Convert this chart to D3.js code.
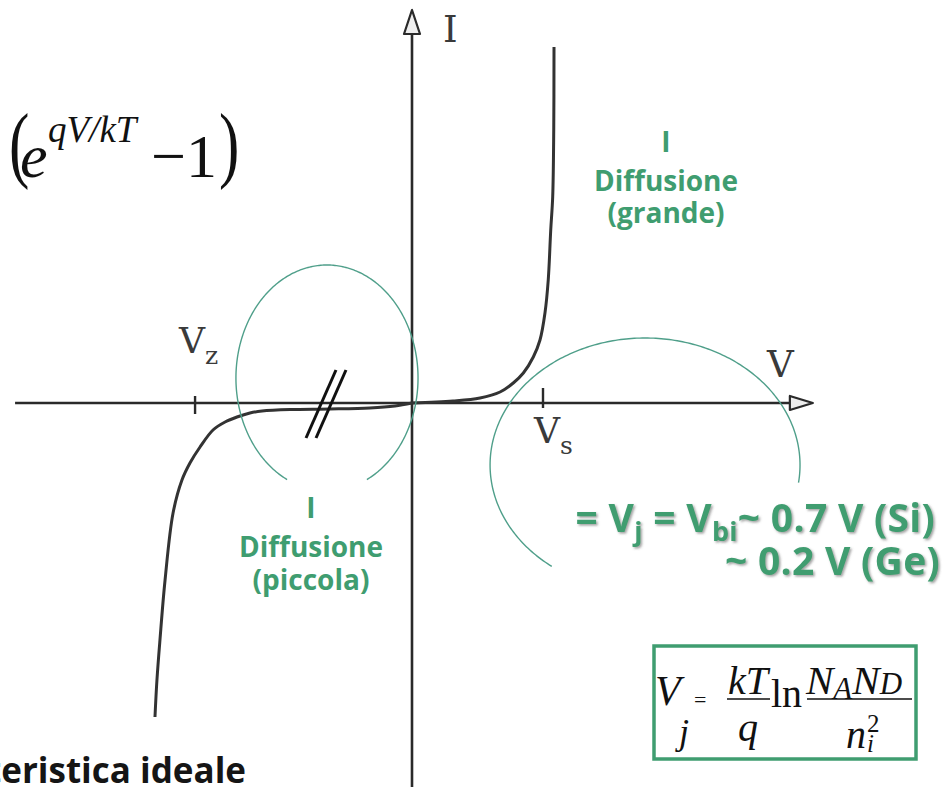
<!DOCTYPE html>
<html>
<head>
<meta charset="utf-8">
<script src="https://cdn.jsdelivr.net/npm/d3@7"></script>
<style>
  html, body { margin: 0; padding: 0; background: #fff; }
  svg { display: block; }
</style>
</head>
<body>
<svg id="chart" width="949" height="787"></svg>
<script>
// Forward branch of the diode I–V characteristic (V, I in sketch units)
const forwardV = [0, 0.313, 0.519, 0.672, 0.773, 0.850, 0.926, 0.977, 1.015, 1.040, 1.059, 1.074, 1.082, 1.084];
const forwardI = [0, 0.02, 0.05, 0.11, 0.20, 0.30, 0.46, 0.63, 0.90, 1.23, 1.73, 2.06, 2.73, 3.56];

// Reverse branch: saturation current, then breakdown near Vz
const reverseV = [0, -0.130, -0.321, -0.626, -0.931, -1.145, -1.237, -1.336, -1.427, -1.519, -1.618, -1.695, -1.756, -1.824, -1.885, -1.924, -1.947, -1.962];
const reverseI = [0, -0.03, -0.05, -0.06, -0.065, -0.08, -0.10, -0.14, -0.19, -0.27, -0.44, -0.60, -0.77, -1.10, -1.77, -2.37, -2.77, -3.14];

// Marked voltages on the V axis
const markNames = ["V", "V"];
const markSubs = ["z", "s"];
const markValues = [-1.656, 1.0];

// Text blocks
const labelForward = ["I", "Diffusione", "(grande)"];
const labelReverse = ["I", "Diffusione", "(piccola)"];
const titleText = "Caratteristica ideale";

const svg = d3.select("#chart");

const x = d3.scaleLinear().domain([-3, 3]).range([19, 805]);
const y = d3.scaleLinear().domain([-4, 4]).range([803, 3]);

const ink = "#2a2a2a";
const green = "#3f9d70";
const arcGreen = "#4f9f8a";

const defs = svg.append("defs");
const shadow = defs.append("filter").attr("id", "txtShadow")
  .attr("x", "-10%").attr("y", "-20%").attr("width", "120%").attr("height", "150%");
shadow.append("feDropShadow").attr("dx", 1.6).attr("dy", 1.6)
  .attr("stdDeviation", 1).attr("flood-color", "#555").attr("flood-opacity", 0.55);

// ---------- axes ----------
const axes = svg.append("g");
axes.append("line")
  .attr("x1", x(-3.03)).attr("x2", x(2.95))
  .attr("y1", y(0)).attr("y2", y(0))
  .attr("stroke", ink).attr("stroke-width", 2.6);
axes.append("line")
  .attr("x1", x(0)).attr("x2", x(0))
  .attr("y1", y(-3.95)).attr("y2", y(3.7))
  .attr("stroke", ink).attr("stroke-width", 2.6);

// hollow arrowheads
const xTip = x(3.06), yTip = y(3.93);
axes.append("path")
  .attr("d", `M${xTip},${y(0)} L${xTip - 23},${y(0) - 7} L${xTip - 23},${y(0) + 7} Z`)
  .attr("fill", "#eeeeee").attr("stroke", ink).attr("stroke-width", 2.2).attr("stroke-linejoin", "round");
axes.append("path")
  .attr("d", `M${x(0)},${yTip} L${x(0) - 8},${yTip + 24} L${x(0) + 8},${yTip + 24} Z`)
  .attr("fill", "#eeeeee").attr("stroke", ink).attr("stroke-width", 2.2).attr("stroke-linejoin", "round");

// axis names
const serif = "'DejaVu Serif', serif";
axes.append("text").attr("x", x(0) + 31).attr("y", 42)
  .attr("font-family", serif).attr("font-size", 37).attr("fill", "#3a3a3a").text("I");
axes.append("text").attr("x", 767).attr("y", 377)
  .attr("font-family", serif).attr("font-size", 37).attr("fill", "#3a3a3a").text("V");

// marks on the V axis
const markUp = [0.07, 0.15];
const markDown = [-0.11, -0.05];
axes.selectAll("line.mark").data(markValues).join("line")
  .attr("class", "mark")
  .attr("x1", d => x(d)).attr("x2", d => x(d))
  .attr("y1", (d, i) => y(markUp[i])).attr("y2", (d, i) => y(markDown[i]))
  .attr("stroke", ink).attr("stroke-width", 2.4);

const markPos = [[179, 353], [534, 443]];
markValues.forEach((v, i) => {
  const t = axes.append("text")
    .attr("x", markPos[i][0]).attr("y", markPos[i][1])
    .attr("font-family", serif).attr("font-size", 36).attr("fill", "#3a3a3a");
  t.append("tspan").text(markNames[i]);
  t.append("tspan").attr("dy", 11).attr("font-size", 25).text(markSubs[i]);
});

// ---------- characteristic ----------
const line = d3.line()
  .x(d => x(d[0])).y(d => y(d[1]))
  .curve(d3.curveCatmullRom.alpha(0.5));

const fwd = forwardV.map((v, i) => [v, forwardI[i]]);
const rev = reverseV.map((v, i) => [v, reverseI[i]]);

svg.append("path").datum(fwd).attr("d", line)
  .attr("fill", "none").attr("stroke", "#333").attr("stroke-width", 3);
svg.append("path").datum(rev).attr("d", line)
  .attr("fill", "none").attr("stroke", "#333").attr("stroke-width", 3);

// scale-break marks on the reverse branch
[0, 10].forEach(off => {
  svg.append("line")
    .attr("x1", 306 + off).attr("y1", 438)
    .attr("x2", 336 + off).attr("y2", 370)
    .attr("stroke", "#111").attr("stroke-width", 3);
});

// ---------- region outlines ----------
function ellipseArc(cv, ci, rv, ri, a0, a1) {
  const cx = x(cv), cy = y(ci);
  const rx = x(rv) - x(0), ry = y(0) - y(ri);
  const pts = d3.range(a0, a1 + 0.5, 1).map(a => {
    const t = a * Math.PI / 180;
    return [cx + rx * Math.cos(t), cy + ry * Math.sin(t)];
  });
  return d3.line()(pts);
}
svg.append("path").attr("d", ellipseArc(-0.649, 0.25, 0.695, 1.13, 116, 424))
  .attr("fill", "none").attr("stroke", arcGreen).attr("stroke-width", 1.4);
svg.append("path").attr("d", ellipseArc(1.779, -0.62, 1.183, 1.27, 127, 368))
  .attr("fill", "none").attr("stroke", arcGreen).attr("stroke-width", 1.4);

// ---------- green notes ----------
const sans = "'Open Sans', sans-serif";
function stack(lines, cx, baselines) {
  lines.forEach((s, i) => {
    svg.append("text").attr("x", cx).attr("y", baselines[i])
      .attr("text-anchor", "middle").attr("font-family", sans)
      .attr("font-weight", 700).attr("font-size", 28).attr("fill", green).text(s);
  });
}
stack(labelForward, 666, [152, 191, 223]);
stack(labelReverse, 311, [518, 557, 590]);

const vbi = svg.append("text").attr("x", 935).attr("y", 532).attr("text-anchor", "end")
  .attr("font-family", sans).attr("font-weight", 700).attr("font-size", 39)
  .attr("letter-spacing", 0.3)
  .attr("fill", green).attr("filter", "url(#txtShadow)");
vbi.append("tspan").text("= V");
vbi.append("tspan").attr("dy", 9).attr("font-size", 27).text("j");
vbi.append("tspan").attr("dy", -9).text(" = V");
vbi.append("tspan").attr("dy", 9).attr("font-size", 27).text("bi");
vbi.append("tspan").attr("dy", -9).text("~ 0.7 V (Si)");

svg.append("text").attr("x", 940).attr("y", 575).attr("text-anchor", "end")
  .attr("font-family", sans).attr("font-weight", 700).attr("font-size", 39)
  .attr("letter-spacing", 0.3)
  .attr("fill", green).attr("filter", "url(#txtShadow)").text("~ 0.2 V (Ge)");

// ---------- built-in voltage formula ----------
const tnr = "'Liberation Serif', 'Times New Roman', serif";
const box = svg.append("g");
box.append("rect").attr("x", 654).attr("y", 646).attr("width", 262).attr("height", 113)
  .attr("fill", "#fff").attr("stroke", green).attr("stroke-width", 3.5);
const mt = (xx, yy, s, size, italic, anchor) => box.append("text")
  .attr("x", xx).attr("y", yy).attr("font-family", tnr).attr("font-size", size)
  .attr("font-style", italic ? "italic" : "normal").attr("fill", "#111")
  .attr("text-anchor", anchor || "start").text(s);
mt(655, 705, "V", 42, true);
mt(679, 744, "j", 36, true);
mt(694, 707, "=", 22, false);
mt(748, 694, "kT", 40, true, "middle");
box.append("line").attr("x1", 727).attr("x2", 770).attr("y1", 699).attr("y2", 699)
  .attr("stroke", "#111").attr("stroke-width", 1.6);
mt(748, 741, "q", 40, true, "middle");
mt(771, 707, "ln", 40, false);
const num = box.append("text").attr("x", 806).attr("y", 694)
  .attr("font-family", tnr).attr("font-size", 41).attr("font-style", "italic").attr("fill", "#111");
num.append("tspan").text("N");
num.append("tspan").attr("dy", 5).attr("font-size", 31).text("A");
num.append("tspan").attr("dy", -5).text("N");
num.append("tspan").attr("dy", 0).attr("font-size", 31).text("D");
box.append("line").attr("x1", 807).attr("x2", 912).attr("y1", 699).attr("y2", 699)
  .attr("stroke", "#111").attr("stroke-width", 1.6);
mt(846, 748, "n", 40, true);
mt(867, 732, "2", 25, false);
mt(867, 752, "i", 25, true);

// ---------- current law (left edge) ----------
const law = svg.append("g").attr("font-family", tnr).attr("fill", "#111");
law.append("text").attr("transform", "translate(9,172) scale(0.72,1)")
  .attr("font-size", 85).text("(");
law.append("text").attr("x", 20).attr("y", 177).attr("font-size", 62).attr("font-style", "italic").text("e");
law.append("text").attr("x", 48).attr("y", 142).attr("font-size", 37).attr("font-style", "italic").text("qV/kT");
law.append("text").attr("x", 151).attr("y", 177).attr("font-size", 62).text("\u22121");
law.append("text").attr("transform", "translate(219,172) scale(0.72,1)")
  .attr("font-size", 85).text(")");

// ---------- title ----------
svg.append("text").attr("x", 246).attr("y", 783).attr("text-anchor", "end")
  .attr("font-family", sans).attr("font-weight", 700).attr("font-size", 35)
  .attr("fill", "#151515").text(titleText);
</script>
</body>
</html>
